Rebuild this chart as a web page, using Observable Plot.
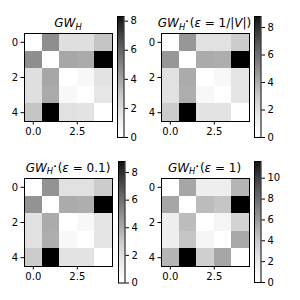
<!DOCTYPE html>
<html>
<head>
<meta charset="utf-8">
<script src="https://cdn.jsdelivr.net/npm/d3@7"></script>
<script src="https://cdn.jsdelivr.net/npm/@observablehq/plot@0.6"></script>
<style>
  html, body { margin: 0; padding: 0; background: white; }
  #fig { position: relative; width: 300px; height: 300px; overflow: hidden; font-family: "DejaVu Sans", sans-serif; }
  #fig svg { position: absolute; overflow: visible; background: transparent; }
  .t { position: absolute; font-size: 12px; line-height: 12px; white-space: nowrap; transform: translateX(-50%); color: black; }
  .t sub { font-size: 70%; vertical-align: baseline; position: relative; top: 0.3em; line-height: 0; }
  .t sub sup { font-size: 110%; font-weight: bold; vertical-align: baseline; position: relative; top: -0.6em; line-height: 0; margin-right: 1px; }
</style>
</head>
<body>
<div id="fig"></div>
<script>
// ---- data ----
const gwH = [
  [0.0, 4.4, 1.8, 1.8, 2.8],
  [4.4, 0.0, 3.7, 3.6, 8.3],
  [1.8, 3.7, 0.0, 0.5, 1.6],
  [1.8, 3.6, 0.5, 0.0, 1.5],
  [2.8, 8.3, 1.7, 1.6, 0.0]
];
const gwEpsInvV = [
  [0.0, 4.4, 1.8, 1.8, 2.7],
  [4.4, 0.0, 3.8, 3.7, 8.8],
  [1.8, 3.8, 0.0, 0.5, 1.6],
  [1.8, 3.7, 0.5, 0.0, 1.6],
  [2.7, 8.8, 1.7, 1.7, 0.0]
];
const gwEps01 = [
  [0.0, 4.5, 1.8, 1.8, 2.7],
  [4.5, 0.0, 3.8, 3.7, 8.8],
  [1.8, 3.8, 0.0, 0.5, 1.6],
  [1.8, 3.7, 0.5, 0.0, 1.6],
  [2.7, 8.8, 1.7, 1.7, 0.0]
];
const gwEps1 = [
  [0.0, 5.2, 1.5, 1.5, 4.6],
  [5.2, 0.0, 4.3, 3.9, 11.6],
  [1.5, 4.3, 0.0, 0.9, 3.2],
  [1.5, 3.9, 0.9, 0.0, 5.1],
  [4.6, 11.6, 3.4, 5.2, 0.0]
];
const vmaxes = [8.32, 8.8, 8.8, 11.6];
const titles = [
  '<i>GW</i><sub><i>H</i></sub>',
  '<i>GW</i><sub><i>H</i><sup>·</sup></sub>(<i>ε</i> = 1/|<i>V</i>|)',
  '<i>GW</i><sub><i>H</i><sup>·</sup></sub>(<i>ε</i> = 0.1)',
  '<i>GW</i><sub><i>H</i><sup>·</sup></sub>(<i>ε</i> = 1)'
];
const xTicks = [0, 2.5];
const yTicks = [0, 2, 4];

// ---- layout ----
const S = 88;
const panels = [
  {m: gwH,       L: 24,    T: 33,    cbx: 117,   cby: 16,  cbh: 121},
  {m: gwEpsInvV, L: 160.5, T: 33,    cbx: 253.5, cby: 16,  cbh: 121},
  {m: gwEps01,   L: 24,    T: 177.5, cbx: 117.5, cby: 161, cbh: 121.5},
  {m: gwEps1,    L: 160.5, T: 177.5, cbx: 253.5, cby: 161, cbh: 121}
];

const fig = document.getElementById("fig");
const baseStyle = {fontFamily: "DejaVu Sans", fontSize: "10px", color: "black", background: "transparent", overflow: "visible"};

panels.forEach((p, k) => {
  const vmax = vmaxes[k];
  const cells = [];
  p.m.forEach((row, r) => row.forEach((v, c) => cells.push({r, c, v})));
  const colorOpt = {type: "linear", scheme: "greys", domain: [0, vmax]};

  const mL = 26, mR = 2, mB = 22;
  const heat = Plot.plot({
    width: mL + S + mR, height: S + mB,
    marginLeft: mL, marginRight: mR, marginTop: 0, marginBottom: mB,
    style: baseStyle,
    x: {domain: [-0.5, 4.5], ticks: xTicks, tickFormat: d3.format(".1f"), tickSize: 3.5, tickPadding: 3, label: null},
    y: {domain: [4.5, -0.5], ticks: yTicks, tickFormat: d3.format("d"), tickSize: 3.5, tickPadding: 3, label: null},
    color: colorOpt,
    marks: [
      Plot.rect(cells, {x1: d => d.c - 0.5, x2: d => d.c + 0.5, y1: d => d.r - 0.5, y2: d => d.r + 0.5, fill: "v", shapeRendering: "crispEdges"}),
      Plot.frame({stroke: "black", strokeWidth: 1})
    ]
  });
  heat.style.left = (p.L - mL) + "px";
  heat.style.top = p.T + "px";
  fig.appendChild(heat);

  const n = 240, step = vmax / n;
  const stops = d3.range(n).map(i => i * step);
  const cbw = 6.5, cmR = 26;
  const cb = Plot.plot({
    width: cbw + cmR, height: p.cbh,
    marginLeft: 0, marginRight: cmR, marginTop: 0, marginBottom: 0,
    style: baseStyle,
    x: {domain: [0, 1], axis: null},
    y: {domain: [0, vmax], ticks: d3.range(0, vmax, 2), tickFormat: d3.format("d"), axis: "right", tickSize: 3.5, tickPadding: 3, label: null},
    color: colorOpt,
    marks: [
      Plot.rect(stops, {x1: 0, x2: 1, y1: d => d, y2: d => Math.min(vmax, d + step * 1.6), fill: d => d}),
      Plot.frame({stroke: "black", strokeWidth: 1})
    ]
  });
  cb.style.left = p.cbx + "px";
  cb.style.top = p.cby + "px";
  fig.appendChild(cb);

  const t = document.createElement("div");
  t.className = "t";
  t.innerHTML = titles[k];
  t.style.left = (p.L + S / 2) + "px";
  t.style.top = (p.T - 15.7) + "px";
  fig.appendChild(t);
});
</script>
</body>
</html>
